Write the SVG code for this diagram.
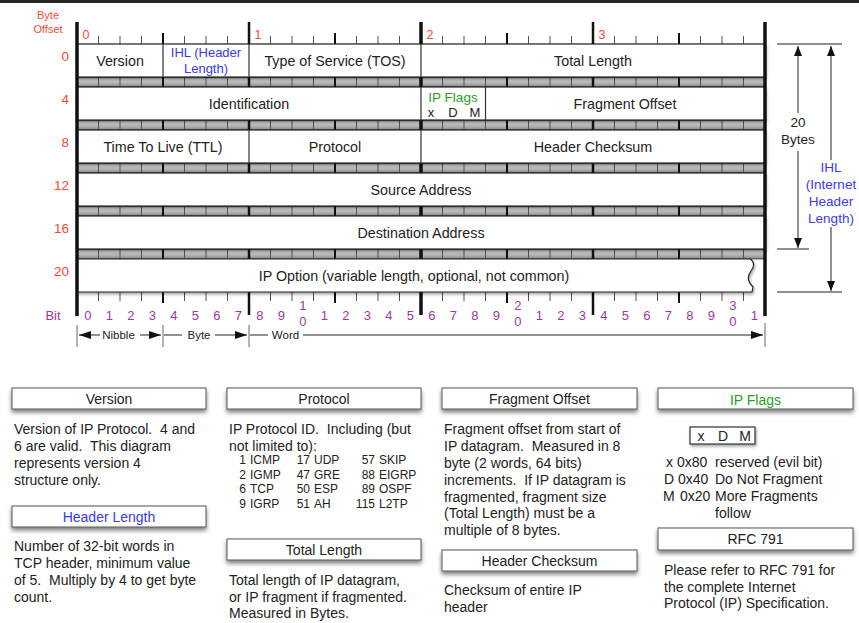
<svg xmlns="http://www.w3.org/2000/svg" width="859" height="623" viewBox="0 0 859 623">
<defs>
<style>
text{font-family:"Liberation Sans",Arial,sans-serif;fill:#222;white-space:pre}
.f{font-size:14.3px;text-anchor:middle}
.h{font-size:14px;text-anchor:middle}
.red{fill:#f04a3a}
.pur{fill:#9a3a9a;font-size:13px;text-anchor:middle}
.blue{fill:#3a3af0}
.green{fill:#2e9a2e}
.lg{font-size:14px}
.tb{font-size:12px}
.row{fill:#fff;stroke:#222;stroke-width:1.2;filter:url(#sh)}
.band{fill:url(#bg);stroke:#333;stroke-width:0.8}
.div{stroke:#333;stroke-width:1.2}
.hb{fill:#fff;stroke:#555;stroke-width:1;filter:url(#sh2)}
.dim{stroke:#222;stroke-width:1;fill:none}
</style>
<linearGradient id="bg" x1="0" y1="0" x2="0" y2="1">
<stop offset="0" stop-color="#6e6e6e"/>
<stop offset="0.2" stop-color="#d2d2d2"/>
<stop offset="0.6" stop-color="#b4b4b4"/>
<stop offset="1" stop-color="#858585"/>
</linearGradient>
<filter id="sh" x="-5%" y="-20%" width="110%" height="160%">
<feDropShadow dx="1" dy="2" stdDeviation="1.5" flood-color="#000" flood-opacity="0.35"/>
</filter>
<filter id="sh2" x="-5%" y="-30%" width="110%" height="180%">
<feDropShadow dx="0" dy="3" stdDeviation="2" flood-color="#000" flood-opacity="0.5"/>
</filter>
<marker id="ah" markerWidth="10" markerHeight="8" refX="10" refY="4" orient="auto" markerUnits="userSpaceOnUse">
<path d="M0,0 L10,4 L0,8 Z" fill="#111"/>
</marker>
<marker id="ahs" markerWidth="12" markerHeight="8" refX="12" refY="4" orient="auto-start-reverse" markerUnits="userSpaceOnUse">
<path d="M0,0 L12,4 L0,8 Z" fill="#111"/>
</marker>
</defs>
<rect x="0" y="0" width="859" height="623" fill="#fff"/>
<rect x="0" y="0" width="859" height="3" fill="#262626"/>

<g id="offset-labels">
<text class="red" x="48" y="19" font-size="11" text-anchor="middle">Byte</text>
<text class="red" x="48" y="33" font-size="11" text-anchor="middle">Offset</text>
<g font-size="13.5" text-anchor="end">
<text class="red" x="69" y="60.5">0</text>
<text class="red" x="69" y="103.5">4</text>
<text class="red" x="69" y="146.5">8</text>
<text class="red" x="69" y="189.5">12</text>
<text class="red" x="69" y="232.5">16</text>
<text class="red" x="69" y="275.5">20</text>
</g>
<g font-size="12.5" text-anchor="middle">
<text class="red" x="86" y="38.5">0</text>
<text class="red" x="258" y="38.5">1</text>
<text class="red" x="430" y="38.5">2</text>
<text class="red" x="602" y="38.5">3</text>
</g>
</g>

<g id="bands">
<rect class="band" x="77" y="77" width="688" height="10"/>
<rect class="band" x="77" y="120" width="688" height="10"/>
<rect class="band" x="77" y="163" width="688" height="10"/>
<rect class="band" x="77" y="206" width="688" height="10"/>
<rect class="band" x="77" y="249" width="688" height="10"/>
</g>

<g id="ticks">
<path stroke="#555" stroke-width="1" d="M98.5 36V301M120 36V301M141.5 36V301M184.5 36V301M206 36V301M227.5 36V301M270.5 36V301M292 36V301M313.5 36V301M356.5 36V301M378 36V301M399.5 36V301M442.5 36V301M464 36V301M485.5 36V301M528.5 36V301M550 36V301M571.5 36V301M614.5 36V301M636 36V301M657.5 36V301M700.5 36V301M722 36V301M743.5 36V301"/>
<path stroke="#111" stroke-width="2" d="M163 33V303M335 33V303M507 33V303M679 33V303"/>
<path stroke="#111" stroke-width="2.5" d="M249 22V315M593 22V315"/>
<path stroke="#111" stroke-width="3.5" d="M421 22V315"/>
</g>

<g id="row0">
<rect class="row" x="77" y="44" width="688" height="33"/>
<path class="div" d="M163 44V77M249 44V77M421 44V77"/>
<text class="f" x="120" y="65.5">Version</text>
<text class="blue" x="206" y="57" font-size="13" text-anchor="middle">IHL (Header</text>
<text class="blue" x="206" y="73" font-size="13" text-anchor="middle">Length)</text>
<text class="f" x="335" y="65.5">Type of Service (TOS)</text>
<text class="f" x="593" y="65.5">Total Length</text>
</g>
<g id="row4">
<rect class="row" x="77" y="87" width="688" height="33"/>
<path class="div" d="M421 87V120M485.5 87V120"/>
<text class="f" x="249" y="108.5">Identification</text>
<text class="green" x="453" y="101.5" font-size="13.5" text-anchor="middle">IP Flags</text>
<text x="431" y="116.5" font-size="13" text-anchor="middle">x</text>
<text x="453" y="116.5" font-size="13" text-anchor="middle">D</text>
<text x="475" y="116.5" font-size="13" text-anchor="middle">M</text>
<text class="f" x="625" y="108.5">Fragment Offset</text>
</g>
<g id="row8">
<rect class="row" x="77" y="130" width="688" height="33"/>
<path class="div" d="M249 130V163M421 130V163"/>
<text class="f" x="163" y="151.5">Time To Live (TTL)</text>
<text class="f" x="335" y="151.5">Protocol</text>
<text class="f" x="593" y="151.5">Header Checksum</text>
</g>
<g id="row12">
<rect class="row" x="77" y="173" width="688" height="33"/>
<text class="f" x="421" y="194.5">Source Address</text>
</g>
<g id="row16">
<rect class="row" x="77" y="216" width="688" height="33"/>
<text class="f" x="421" y="237.5">Destination Address</text>
</g>
<g id="row20">
<path class="row" d="M77 259H750C754 261 755 266 751 271C747 276 748 282 753 287L752 292H77Z"/>
<text class="f" x="414" y="280.5">IP Option (variable length, optional, not common)</text>
</g>

<g id="frame">
<path stroke="#111" stroke-width="3.5" d="M77 22V316M765 22V316"/>
</g>

<g id="bit-labels">
<text class="pur" x="53" y="319.5">Bit</text>
<text class="pur" x="87.75" y="319.5">0</text>
<text class="pur" x="109.25" y="319.5">1</text>
<text class="pur" x="130.75" y="319.5">2</text>
<text class="pur" x="152.25" y="319.5">3</text>
<text class="pur" x="173.75" y="319.5">4</text>
<text class="pur" x="195.25" y="319.5">5</text>
<text class="pur" x="216.75" y="319.5">6</text>
<text class="pur" x="238.25" y="319.5">7</text>
<text class="pur" x="259.75" y="319.5">8</text>
<text class="pur" x="281.25" y="319.5">9</text>
<text class="pur" x="302.75" y="310">1</text>
<text class="pur" x="302.75" y="326">0</text>
<text class="pur" x="324.25" y="319.5">1</text>
<text class="pur" x="345.75" y="319.5">2</text>
<text class="pur" x="367.25" y="319.5">3</text>
<text class="pur" x="388.75" y="319.5">4</text>
<text class="pur" x="410.25" y="319.5">5</text>
<text class="pur" x="431.75" y="319.5">6</text>
<text class="pur" x="453.25" y="319.5">7</text>
<text class="pur" x="474.75" y="319.5">8</text>
<text class="pur" x="496.25" y="319.5">9</text>
<text class="pur" x="517.75" y="310">2</text>
<text class="pur" x="517.75" y="326">0</text>
<text class="pur" x="539.25" y="319.5">1</text>
<text class="pur" x="560.75" y="319.5">2</text>
<text class="pur" x="582.25" y="319.5">3</text>
<text class="pur" x="603.75" y="319.5">4</text>
<text class="pur" x="625.25" y="319.5">5</text>
<text class="pur" x="646.75" y="319.5">6</text>
<text class="pur" x="668.25" y="319.5">7</text>
<text class="pur" x="689.75" y="319.5">8</text>
<text class="pur" x="711.25" y="319.5">9</text>
<text class="pur" x="732.75" y="310">3</text>
<text class="pur" x="732.75" y="326">0</text>
<text class="pur" x="754.25" y="319.5">1</text>
</g>

<g id="connectors">
<path stroke="#666" stroke-width="1" d="M77 325V347M163 325V347M249 325V347M765 323V347"/>
<path class="dim" d="M100 335H79" marker-end="url(#ahs)"/>
<path class="dim" d="M140 335H161" marker-end="url(#ahs)"/>
<path class="dim" d="M164 335H182"/>
<path class="dim" d="M215 335H247" marker-end="url(#ahs)"/>
<path class="dim" d="M250 335H268"/>
<path class="dim" d="M303 335H763" marker-end="url(#ahs)"/>
<path class="dim" d="M777 44H842M777 249H809M777 292H842"/>
<path class="dim" d="M798 113V46" marker-end="url(#ah)"/>
<path class="dim" d="M798 151V248" marker-end="url(#ah)"/>
<path class="dim" d="M831 160V46" marker-end="url(#ah)"/>
<path class="dim" d="M831 227V291" marker-end="url(#ah)"/>
<text x="798" y="126.5" font-size="13.5" text-anchor="middle">20</text>
<text x="798" y="143.5" font-size="13.5" text-anchor="middle">Bytes</text>
<g font-size="13.5" text-anchor="middle">
<text class="blue" x="831" y="171.5">IHL</text>
<text class="blue" x="831" y="188.5">(Internet</text>
<text class="blue" x="831" y="205.5">Header</text>
<text class="blue" x="831" y="222.5">Length)</text>
</g>
<text x="118.5" y="339" font-size="11.5" text-anchor="middle">Nibble</text>
<text x="199" y="339" font-size="11.5" text-anchor="middle">Byte</text>
<text x="285.5" y="339" font-size="11.5" text-anchor="middle">Word</text>
</g>

<g id="legend-version">
<rect class="hb" x="12" y="388" width="194" height="21"/>
<text class="h" x="109" y="404">Version</text>
<text class="lg" x="14" y="434">Version of IP Protocol.  4 and</text>
<text class="lg" x="14" y="451">6 are valid.  This diagram</text>
<text class="lg" x="14" y="468">represents version 4</text>
<text class="lg" x="14" y="485">structure only.</text>
</g>
<g id="legend-header-length">
<rect class="hb" x="12" y="506" width="194" height="21"/>
<text class="h blue" x="109" y="522">Header Length</text>
<text class="lg" x="14" y="551">Number of 32-bit words in</text>
<text class="lg" x="14" y="568">TCP header, minimum value</text>
<text class="lg" x="14" y="585">of 5.  Multiply by 4 to get byte</text>
<text class="lg" x="14" y="602">count.</text>
</g>
<g id="legend-protocol">
<rect class="hb" x="227" y="388" width="194" height="21"/>
<text class="h" x="324" y="404">Protocol</text>
<text class="lg" x="229" y="434">IP Protocol ID.  Including (but</text>
<text class="lg" x="229" y="451">not limited to):</text>
<g text-anchor="end">
<text class="tb" x="246" y="464">1</text>
<text class="tb" x="246" y="479">2</text>
<text class="tb" x="246" y="493">6</text>
<text class="tb" x="246" y="508">9</text>
<text class="tb" x="310" y="464">17</text>
<text class="tb" x="310" y="479">47</text>
<text class="tb" x="310" y="493">50</text>
<text class="tb" x="310" y="508">51</text>
<text class="tb" x="375" y="464">57</text>
<text class="tb" x="375" y="479">88</text>
<text class="tb" x="375" y="493">89</text>
<text class="tb" x="375" y="508">115</text>
</g>
<text class="tb" x="250" y="464">ICMP</text>
<text class="tb" x="250" y="479">IGMP</text>
<text class="tb" x="250" y="493">TCP</text>
<text class="tb" x="250" y="508">IGRP</text>
<text class="tb" x="314" y="464">UDP</text>
<text class="tb" x="314" y="479">GRE</text>
<text class="tb" x="314" y="493">ESP</text>
<text class="tb" x="314" y="508">AH</text>
<text class="tb" x="379" y="464">SKIP</text>
<text class="tb" x="379" y="479">EIGRP</text>
<text class="tb" x="379" y="493">OSPF</text>
<text class="tb" x="379" y="508">L2TP</text>
</g>
<g id="legend-total-length">
<rect class="hb" x="227" y="539" width="194" height="21"/>
<text class="h" x="324" y="555">Total Length</text>
<text class="lg" x="229" y="584.5">Total length of IP datagram,</text>
<text class="lg" x="229" y="601.5">or IP fragment if fragmented.</text>
<text class="lg" x="229" y="618">Measured in Bytes.</text>
</g>
<g id="legend-fragment-offset">
<rect class="hb" x="442" y="388" width="195" height="21"/>
<text class="h" x="539.5" y="404">Fragment Offset</text>
<text class="lg" x="444" y="434">Fragment offset from start of</text>
<text class="lg" x="444" y="451">IP datagram.  Measured in 8</text>
<text class="lg" x="444" y="468">byte (2 words, 64 bits)</text>
<text class="lg" x="444" y="485">increments.  If IP datagram is</text>
<text class="lg" x="444" y="502">fragmented, fragment size</text>
<text class="lg" x="444" y="518">(Total Length) must be a</text>
<text class="lg" x="444" y="535">multiple of 8 bytes.</text>
</g>
<g id="legend-header-checksum">
<rect class="hb" x="442" y="550" width="195" height="21"/>
<text class="h" x="539.5" y="566">Header Checksum</text>
<text class="lg" x="444" y="595">Checksum of entire IP</text>
<text class="lg" x="444" y="612">header</text>
</g>
<g id="legend-ip-flags">
<rect class="hb" x="658" y="388" width="195" height="21"/>
<text class="h green" x="755.5" y="405">IP Flags</text>
<rect x="690" y="427" width="65" height="17" fill="#fff" stroke="#333" stroke-width="1.2" filter="url(#sh)"/>
<text class="h" x="701" y="440.5">x</text>
<text class="h" x="723" y="440.5">D</text>
<text class="h" x="745" y="440.5">M</text>
<text class="lg" x="666" y="467">x</text>
<text class="lg" x="664" y="484">D</text>
<text class="lg" x="663" y="501">M</text>
<text class="lg" x="677" y="467">0x80</text>
<text class="lg" x="678" y="484">0x40</text>
<text class="lg" x="680" y="501">0x20</text>
<text class="lg" x="715" y="467">reserved (evil bit)</text>
<text class="lg" x="715" y="484">Do Not Fragment</text>
<text class="lg" x="715" y="501">More Fragments</text>
<text class="lg" x="715" y="518">follow</text>
</g>
<g id="legend-rfc">
<rect class="hb" x="658" y="528" width="195" height="22"/>
<text class="h" x="755.5" y="544">RFC 791</text>
<text class="lg" x="664" y="575">Please refer to RFC 791 for</text>
<text class="lg" x="664" y="592">the complete Internet</text>
<text class="lg" x="664" y="608">Protocol (IP) Specification.</text>
</g>
</svg>
